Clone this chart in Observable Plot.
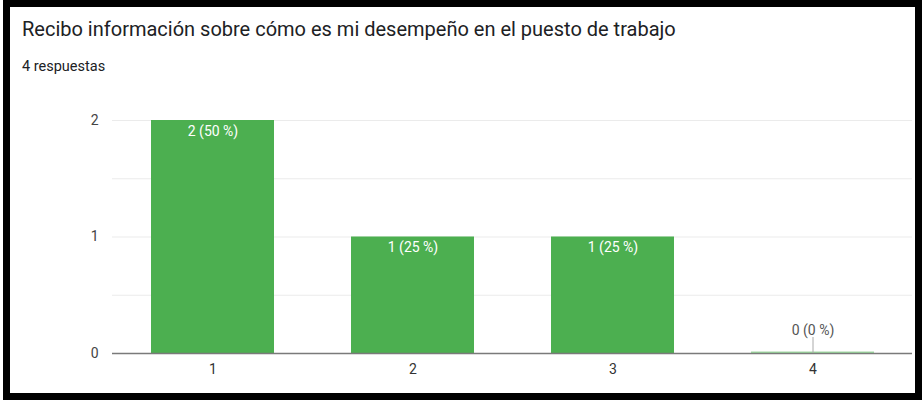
<!DOCTYPE html>
<html>
<head>
<meta charset="utf-8">
<script src="https://cdn.jsdelivr.net/npm/d3@7"></script>
<script src="https://cdn.jsdelivr.net/npm/@observablehq/plot@0.6"></script>
<style>
  html, body { margin: 0; padding: 0; background: #fff; width: 922px; height: 400px; overflow: hidden; }
  #frame { position: absolute; left: 3px; top: 0; width: 905px; height: 386px; border: 7px solid #000; background: #fff; }
  #title { position: absolute; left: 22px; top: 17px; font-family: Roboto, sans-serif; font-size: 20px; color: #202124; white-space: nowrap; }
  #subtitle { position: absolute; left: 22px; top: 58px; font-family: Roboto, sans-serif; font-size: 14.5px; color: #202124; white-space: nowrap; }
  #chart { position: absolute; left: 0; top: 90px; }
</style>
</head>
<body>
<div id="frame"></div>
<div id="title">Recibo información sobre cómo es mi desempeño en el puesto de trabajo</div>
<div id="subtitle">4 respuestas</div>
<div id="chart"></div>
<script>
const categories = ["1", "2", "3", "4"];
const counts = [2, 1, 1, 0];
const percents = [50, 25, 25, 0];
const yTicks = [0, 1, 2];
const gridTicks = [0, 0.5, 1, 1.5, 2];

const data = categories.map((c, i) => ({ cat: c, count: counts[i], pct: percents[i], label: `${counts[i]} (${percents[i]} %)` }));
const nonZero = data.filter(d => d.count > 0);
const zero = data.filter(d => d.count === 0);

const chart = Plot.plot({
  width: 922,
  height: 300,
  marginLeft: 112,
  marginRight: 10,
  marginTop: 30,
  marginBottom: 37,
  style: { fontFamily: "Roboto, sans-serif", fontSize: "14px", background: "transparent" },
  x: { domain: categories, paddingInner: 0.385, paddingOuter: 0.1925, label: null },
  y: { domain: [0, 2], label: null },
  marks: [
    Plot.ruleY(gridTicks, { stroke: "#ebebeb", strokeWidth: 1 }),
    Plot.ruleX([0], { frameAnchor: "left", y1: 0, y2: 2, stroke: "#ebebeb" }),
    Plot.barY(nonZero, { x: "cat", y: "count", fill: "#4caf50" }),
    Plot.ruleY([0], { stroke: "#7a7a7a", strokeWidth: 1.5 }),
    Plot.barY(zero, { x: "cat", y: "count", fill: "#4caf50", fillOpacity: 0.5, insetTop: -1.5 }),
    Plot.ruleX(zero, { x: "cat", y1: 0, y2: 0, insetTop: -16, stroke: "#aaaaaa", strokeWidth: 1 }),
    Plot.text(nonZero, { x: "cat", y: "count", text: "label", dy: 11, fill: "#ffffff", fontSize: 14 }),
    Plot.text(zero, { x: "cat", y: "count", text: "label", dy: -23, fill: "#555555", fontSize: 14 }),
    Plot.axisY(yTicks, { tickSize: 0, tickPadding: 14, tickFormat: "d", color: "#444444", fontSize: 14, label: null }),
    Plot.axisX({ tickSize: 0, tickPadding: 11, color: "#333333", fontSize: 14, label: null })
  ]
});
document.getElementById("chart").appendChild(chart);
</script>
</body>
</html>
